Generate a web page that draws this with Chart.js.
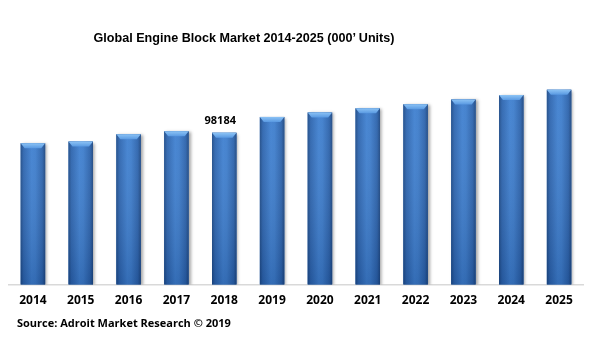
<!DOCTYPE html>
<html>
<head>
<meta charset="utf-8">
<script src="https://cdn.jsdelivr.net/npm/chart.js@4/dist/chart.umd.min.js"></script>
<style>
  html, body { margin: 0; padding: 0; background: #ffffff; }
  #wrap { position: relative; width: 612px; height: 339px; overflow: hidden; }
  #title { position: absolute; left: 0; width: 488px; top: 31px; text-align: center;
           font: bold 12.6px "Liberation Sans", Arial, sans-serif; color: #000; white-space: nowrap; }
  #source { position: absolute; left: 17px; top: 315px;
            font: bold 11px "Open Sans", sans-serif; color: #000; white-space: nowrap; }
  canvas { position: absolute; left: 0; top: 0; }
</style>
</head>
<body>
<div id="wrap">
  <canvas id="c" width="612" height="339"></canvas>
  <div id="title">Global Engine Block Market 2014-2025 (000’ Units)</div>
  <div id="source">Source: Adroit Market Research © 2019</div>
</div>
<script>
const years = ['2014','2015','2016','2017','2018','2019','2020','2021','2022','2023','2024','2025'];
const units = [91400, 92500, 97200, 99100, 98184, 108400, 111300, 114000, 116600, 119700, 122500, 126000];
const labelledIndex = [4];

const barStyle = {
  id: 'barStyle',
  beforeDatasetsDraw(chart) {
    const ctx = chart.ctx;
    ctx.save();
    ctx.shadowColor = 'rgba(0,0,0,0.35)';
    ctx.shadowBlur = 3;
    ctx.shadowOffsetX = 2;
    ctx.shadowOffsetY = 1;
  },
  afterDatasetsDraw(chart) {
    const ctx = chart.ctx;
    ctx.restore();
    const meta = chart.getDatasetMeta(0);
    meta.data.forEach((bar, i) => {
      const p = bar.getProps(['x','y','base','width'], true);
      const l = p.x - p.width / 2, r = p.x + p.width / 2, t = p.y, b = p.base, w = p.width;
      ctx.save();
      const g = ctx.createLinearGradient(l, 0, r, 0);
      g.addColorStop(0, '#1d4a86');
      g.addColorStop(0.12, '#2c64ae');
      g.addColorStop(0.45, '#3f80d0');
      g.addColorStop(0.6, '#3d7dcc');
      g.addColorStop(0.88, '#2b62ab');
      g.addColorStop(1, '#1c4680');
      ctx.fillStyle = g;
      ctx.fillRect(l, t, w, b - t);
      const gv = ctx.createLinearGradient(0, t, 0, b);
      gv.addColorStop(0, 'rgba(255,255,255,0.05)');
      gv.addColorStop(1, 'rgba(0,20,60,0.18)');
      ctx.fillStyle = gv;
      ctx.fillRect(l, t, w, b - t);
      const gt = ctx.createLinearGradient(0, t, 0, t + 6);
      gt.addColorStop(0, '#8cc3f5');
      gt.addColorStop(1, '#4f91de');
      ctx.fillStyle = gt;
      ctx.beginPath();
      ctx.moveTo(l, t);
      ctx.lineTo(r, t);
      ctx.lineTo(r - 4, t + 5);
      ctx.lineTo(l + 4, t + 5);
      ctx.closePath();
      ctx.fill();
      ctx.restore();
      if (labelledIndex.includes(i)) {
        ctx.save();
        ctx.font = 'bold 11px "Open Sans", sans-serif';
        ctx.fillStyle = '#000';
        ctx.textAlign = 'center';
        ctx.textBaseline = 'middle';
        ctx.fillText(String(units[i]), p.x - 4, t - 12);
        ctx.restore();
      }
    });
  }
};

new Chart(document.getElementById('c'), {
  type: 'bar',
  data: {
    labels: years,
    datasets: [{
      data: units,
      backgroundColor: '#3570bd',
      borderWidth: 0,
      categoryPercentage: 1,
      barPercentage: 0.512
    }]
  },
  options: {
    responsive: false,
    animation: false,
    devicePixelRatio: 1,
    layout: { padding: { left: 9, right: 29, top: 60, bottom: 22 } },
    plugins: { legend: { display: false }, tooltip: { enabled: false }, title: { display: false } },
    scales: {
      x: {
        grid: { display: false, drawTicks: false },
        border: { display: true, color: '#d9d9d9', width: 1.5 },
        ticks: { color: '#000', padding: 9, maxRotation: 0, font: { family: '"Open Sans", sans-serif', weight: 'bold', size: 12 } }
      },
      y: { display: false, min: 0, max: 145200 }
    }
  },
  plugins: [barStyle]
});
</script>
</body>
</html>
